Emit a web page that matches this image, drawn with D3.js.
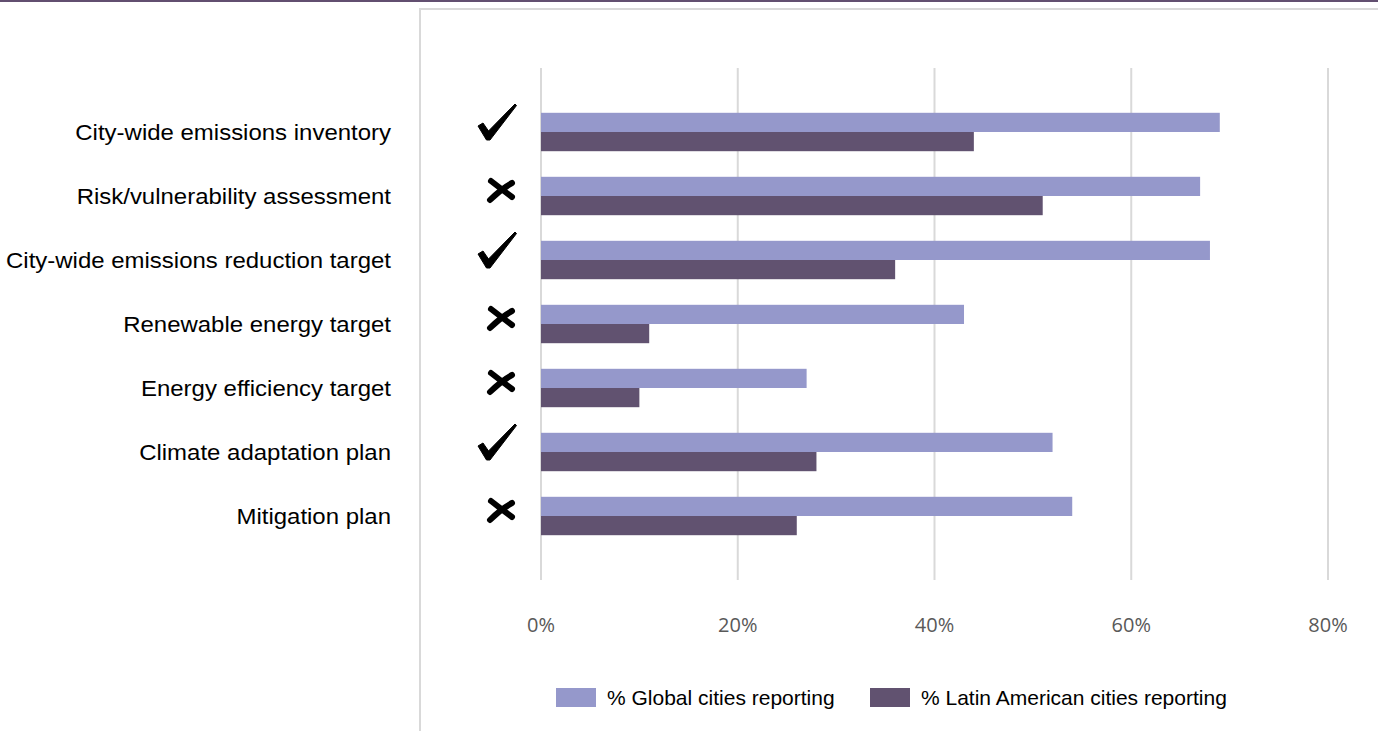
<!DOCTYPE html>
<html>
<head>
<meta charset="utf-8">
<script src="https://cdn.jsdelivr.net/npm/d3@7"></script>
<style>
  body { margin: 0; background: #fff; }
  svg { display: block; }
</style>
</head>
<body>
<div class="chart"></div>
<script>
const categories = [
    "City-wide emissions inventory",
    "Risk/vulnerability assessment",
    "City-wide emissions reduction target",
    "Renewable energy target",
    "Energy efficiency target",
    "Climate adaptation plan",
    "Mitigation plan"
];
const globalValues = [69, 67, 68, 43, 27, 52, 54];
const latamValues = [44, 51, 36, 11, 10, 28, 26];
const marks = ["check", "cross", "check", "cross", "cross", "check", "cross"];
const seriesNames = ["% Global cities reporting", "% Latin American cities reporting"];
const ticks = [0, 20, 40, 60, 80];

function main(){
    const width = 1378;
    const height = 731;
    const colors = ["#9598cb", "#615270"];

    const svg = d3.select('.chart')
        .append('svg')
        .attr('width', width)
        .attr('height', height);

    // top rule and frame
    svg.append("rect")
        .attr("x", 0).attr("y", 0)
        .attr("width", width).attr("height", 2)
        .attr("fill", "#624f70");
    svg.append("rect")
        .attr("x", 420).attr("y", 9)
        .attr("width", 1100).attr("height", 800)
        .attr("fill", "none")
        .attr("stroke", "#d9d9d9")
        .attr("stroke-width", 2);

    const x = d3.scaleLinear().domain([0, 80]).range([541, 1328]);
    const y = d3.scaleBand().domain(categories).range([68, 580])
        .paddingInner(0.4).paddingOuter(0.7);
    const ySub = d3.scaleBand().domain([0, 1]).range([0, y.bandwidth()]);

    // gridlines
    svg.selectAll(".grid")
        .data(ticks)
        .enter()
        .append("line")
        .attr("x1", d => x(d)).attr("x2", d => x(d))
        .attr("y1", 68).attr("y2", 580)
        .attr("stroke", "#d9d9d9")
        .attr("stroke-width", 2);

    // tick labels
    svg.selectAll(".tick-label")
        .data(ticks)
        .enter()
        .append("text")
        .text(d => d + "%")
        .attr("x", d => x(d))
        .attr("y", 632)
        .attr("text-anchor", "middle")
        .attr("font-family", "'Open Sans', sans-serif")
        .attr("font-size", "20px")
        .attr("fill", "#595959");

    // bars
    const rows = categories.map((c, i) => ({cat: c, vals: [globalValues[i], latamValues[i]], mark: marks[i]}));
    const groups = svg.selectAll(".row")
        .data(rows)
        .enter()
        .append("g")
        .attr("transform", d => "translate(0," + y(d.cat) + ")");

    groups.selectAll("rect")
        .data(d => d.vals)
        .enter()
        .append("rect")
        .attr("x", x(0))
        .attr("y", (d, i) => ySub(i))
        .attr("width", d => x(d) - x(0))
        .attr("height", ySub.bandwidth())
        .attr("fill", (d, i) => colors[i]);

    // category labels (slightly wide type, as in the original)
    groups.append("text")
        .text(d => d.cat)
        .attr("transform", "translate(391," + (y.bandwidth() / 2) + ") scale(1.09,1)")
        .attr("dy", "0.36em")
        .attr("text-anchor", "end")
        .attr("font-family", "'Liberation Sans', Arial, sans-serif")
        .attr("font-size", "22px")
        .attr("fill", "#000");

    // check / cross marks
    const cy = y.bandwidth() / 2;
    groups.filter(d => d.mark == "check")
        .append("path")
        .attr("d", "M478," + (cy - 6) + " L483," + (cy - 9) + " L488.5," + (cy - 1)
            + " L515," + (cy - 28) + " L516.5," + (cy - 26.5) + " L490," + (cy + 8) + " L486.5," + (cy + 8) + " Z")
        .attr("fill", "#000")
        .attr("stroke", "#000")
        .attr("stroke-width", 1)
        .attr("stroke-linejoin", "round");

    const crosses = groups.filter(d => d.mark == "cross");
    crosses.append("path")
        .attr("d", "M491," + (cy - 15) + " Q500," + (cy - 8) + " 512," + (cy + 1))
        .attr("fill", "none").attr("stroke", "#000")
        .attr("stroke-width", 6).attr("stroke-linecap", "round");
    crosses.append("path")
        .attr("d", "M512," + (cy - 13) + " Q501," + (cy - 7) + " 490," + (cy + 4))
        .attr("fill", "none").attr("stroke", "#000")
        .attr("stroke-width", 6).attr("stroke-linecap", "round");

    // legend
    const legendX = [556, 870];
    const legend = svg.selectAll(".legend")
        .data(seriesNames)
        .enter()
        .append("g")
        .attr("transform", (d, i) => "translate(" + legendX[i] + ",688)");
    legend.append("rect")
        .attr("width", 40).attr("height", 19)
        .attr("fill", (d, i) => colors[i]);
    legend.append("text")
        .text(d => d)
        .attr("x", 51)
        .attr("y", 16.5)
        .attr("font-family", "'Liberation Sans', Arial, sans-serif")
        .attr("font-size", "21px")
        .attr("fill", "#000");
}

main();
</script>
</body>
</html>
